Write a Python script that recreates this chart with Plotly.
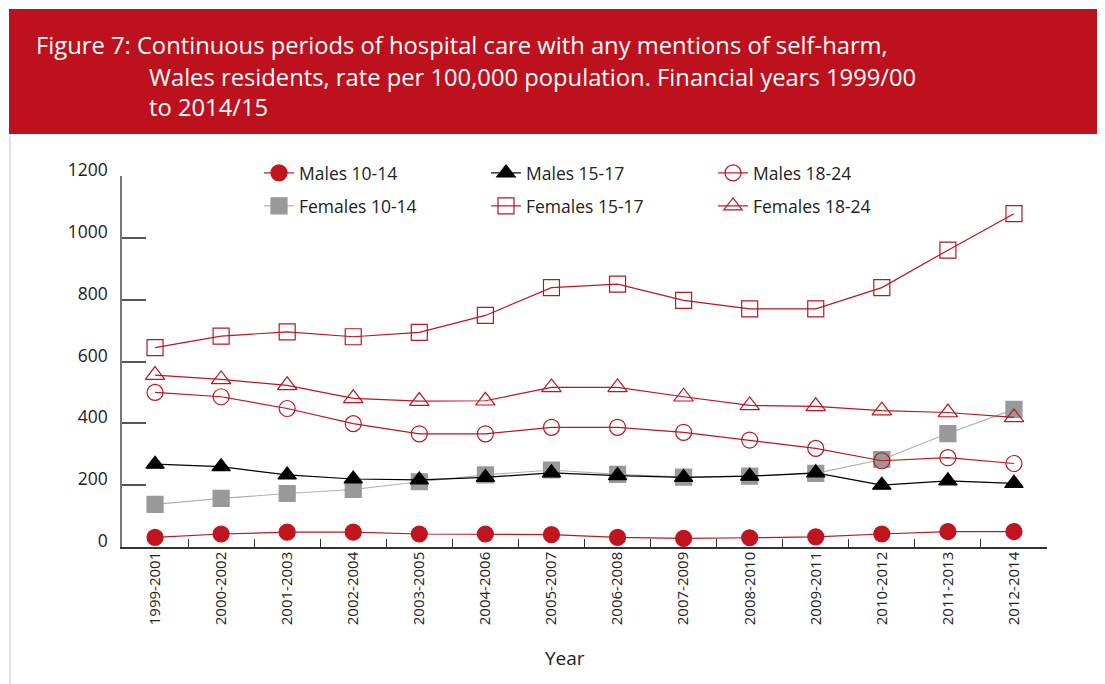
import plotly.graph_objects as go

# ---------------------------------------------------------------------------
# Data (rate per 100,000)
# ---------------------------------------------------------------------------
years = [
    "1999-2001", "2000-2002", "2001-2003", "2002-2004", "2003-2005",
    "2004-2006", "2005-2007", "2006-2008", "2007-2009", "2008-2010",
    "2009-2011", "2010-2012", "2011-2013", "2012-2014",
]
males_10_14 = [31, 42, 48, 48, 42, 42, 40, 31, 28, 30, 33, 42, 50, 50]
males_15_17 = [268, 260, 233, 220, 217, 225, 240, 231, 225, 229, 240, 200, 214, 206]
males_18_24 = [500, 486, 448, 399, 366, 366, 387, 387, 371, 346, 319, 279, 289, 270]
females_10_14 = [138, 157, 173, 186, 211, 233, 249, 235, 226, 229, 238, 283, 367, 445]
females_15_17 = [645, 682, 696, 680, 694, 749, 839, 850, 798, 770, 770, 839, 960, 1078]
females_18_24 = [556, 542, 523, 481, 472, 473, 516, 516, 486, 458, 455, 441, 435, 419]

y_ticks = [0, 200, 400, 600, 800, 1000, 1200]

RED = "#c0141f"
BANNER = "#bd111d"
GREY = "#999999"

# page body adds an 8px offset; positions below are given in screen pixels
OFF = 8
W, H = 1097, 676
L, R, T, B = 114, 58, 168, 137
PW, PH = W - L - R, H - T - B


def px(x):
    return (x - OFF - L) / PW


def py(y):
    return (H - B - (y - OFF)) / PH


fig = go.Figure()


def _add(name, y, symbol, mcolor, lcolor, legend, rank, lw=1.2, size=15):
    fig.add_trace(go.Scatter(
        x=years, y=y, name=name, mode="lines+markers",
        legend=legend, legendrank=rank,
        line=dict(color=lcolor, width=lw),
        marker=dict(symbol=symbol, size=size, color=mcolor,
                    line=dict(color=mcolor, width=1.2)),
    ))


# draw order: greys/blacks under the red ones, like the original
_add("Females 10-14", females_10_14, "square", GREY, "#b0b0b0", "legend2", 1, size=16)
_add("Males 15-17", males_15_17, "triangle-up", "#000000", "#000000", "legend", 2, size=16)
_add("Males 18-24", males_18_24, "circle-open", RED, RED, "legend", 3, size=16)
_add("Females 15-17", females_15_17, "square-open", RED, RED, "legend2", 2, size=16)
_add("Females 18-24", females_18_24, "triangle-up-open", RED, RED, "legend2", 3, size=17)
_add("Males 10-14", males_10_14, "circle", RED, RED, "legend", 1, size=16)

legend_style = dict(
    orientation="h", xanchor="left", yanchor="middle",
    entrywidth=182, entrywidthmode="pixels",
    font=dict(family="Open Sans", size=17.5, color="#222222"),
    bgcolor="rgba(0,0,0,0)", traceorder="normal",
)

fig.update_layout(
    width=W, height=H,
    margin=dict(l=L, r=R, t=T, b=B),
    paper_bgcolor="white", plot_bgcolor="white",
    font=dict(family="Open Sans", color="#222222"),
    legend=dict(x=px(259), y=py(173), **legend_style),
    legend2=dict(x=px(259), y=py(206), **legend_style),
    xaxis=dict(
        type="category", range=[-0.5, 13.5],
        showgrid=False, zeroline=False,
        showline=True, linecolor="#333333", linewidth=1.5,
        ticks="inside", ticklen=8, tickcolor="#333333", tickwidth=1.2,
        tickson="boundaries", tickangle=-90,
        tickfont=dict(family="Open Sans", size=15, color="#222222"),
        ticklabelstandoff=-3,
    ),
    yaxis=dict(
        range=[0, 1200], tickvals=y_ticks,
        showgrid=False, zeroline=False,
        showline=True, linecolor="#777777", linewidth=1.5,
        ticks="inside", ticklen=24, tickcolor="#555555", tickwidth=1.5,
        tickfont=dict(family="Open Sans", size=17.5, color="#222222"),
        ticklabelstandoff=9, ticklabelshift=-6,
    ),
    showlegend=True,
)

# title banner and thin page rule on the left
fig.add_shape(type="rect", xref="paper", yref="paper",
              x0=px(9), x1=px(1110), y0=py(134), y1=py(9),
              fillcolor=BANNER, line=dict(width=0), layer="below")
fig.add_shape(type="line", xref="paper", yref="paper",
              x0=px(10), x1=px(10), y0=py(134), y1=py(700),
              line=dict(color="#e3e3e3", width=2))

title_font = dict(family="Open Sans", size=23.75, color="white")
title_lines = [
    (34, 45, "Figure 7: Continuous periods of hospital care with any mentions of self-harm,"),
    (147, 77, "Wales residents, rate per 100,000 population. Financial years 1999/00"),
    (147, 107, "to 2014/15"),
]
for x0, y0, txt in title_lines:
    fig.add_annotation(text=txt, xref="paper", yref="paper", x=px(x0), y=py(y0),
                       xanchor="left", yanchor="middle", showarrow=False,
                       font=title_font)

fig.add_annotation(text="Year", xref="paper", yref="paper", x=px(565), y=py(658),
                   xanchor="center", yanchor="middle", showarrow=False,
                   font=dict(family="Open Sans", size=19, color="#222222"))

fig.write_html("out.html")
